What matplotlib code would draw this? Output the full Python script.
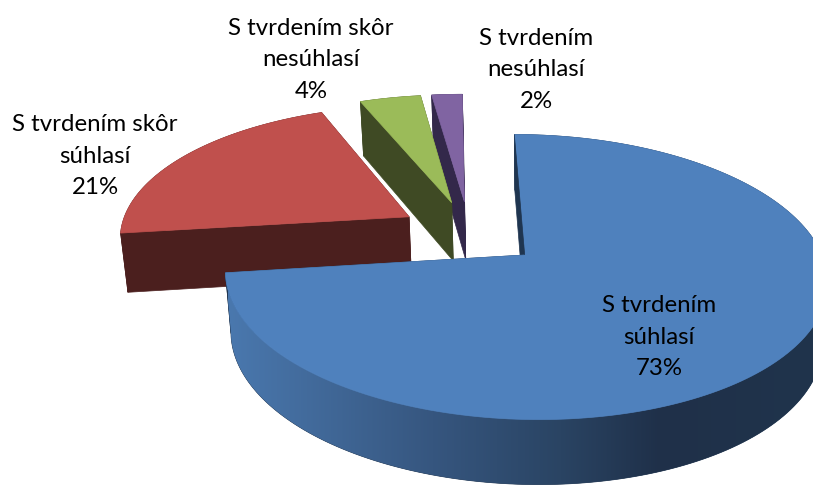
import numpy as np
import matplotlib.pyplot as plt
from matplotlib.patches import Polygon
from matplotlib.colors import LinearSegmentedColormap

plt.rcParams['font.family'] = ['Lato', 'DejaVu Sans']

# pie data, clockwise from the top
labels = ['S tvrdením\nsúhlasí', 'S tvrdením skôr\nsúhlasí', 'S tvrdením skôr\nnesúhlasí', 'S tvrdením\nnesúhlasí']
values = [73, 21, 4, 2]
colors = ['#4f81bd', '#c0504d', '#9bbb59', '#8064a2']
wall_colors = ['#1f3550', '#4b1f1e', '#3f4a24', '#33284a']
label_pos = [(659, 337), (95, 156), (311, 60), (536, 70)]

explode = 0.245

# fake 3d camera, fitted by eye
cx, cy = 469.5, 233
sx, sy = 290, 132.4
persp = 0.151
shear = 0.025


def project(u, v, z=0.0):
    w = 1 + persp * v
    s = sy * v / w
    x = cx + sx * u / w - shear * s
    y = cy - s + z * 59.2 / (1 + 0.0768 * v)
    x = 540 + (x - 540) * (1 - 0.0175 * z)
    return np.column_stack([x, y])


fig = plt.figure(figsize=(8.13, 4.86), dpi=100)
ax = fig.add_axes([0, 0, 1, 1])
ax.set_xlim(0, 813)
ax.set_ylim(486, 0)
ax.axis('off')

edges = np.cumsum([0] + values) / sum(values) * 2 * np.pi

# side shading of the blue slice, darkest at about x=660
side_cmap = LinearSegmentedColormap.from_list('side', [
    (0.0, '#4a78ae'), (0.35, '#36567f'), (0.57, '#2a4463'), (0.74, '#1f3049'), (1.0, '#20344c')])

# back slices first, the big blue one goes on top
for i in [3, 2, 1, 0]:
    t0, t1 = edges[i], edges[i + 1]
    mid = (t0 + t1) / 2
    du, dv = explode * np.sin(mid), explode * np.cos(mid)
    t = np.linspace(t0, t1, 200)
    u = du + np.sin(t)
    v = dv + np.cos(t)
    top_rim = project(u, v)
    low_rim = project(u, v, 1)
    ap_top = project(np.array([du]), np.array([dv]))
    ap_low = project(np.array([du]), np.array([dv]), 1)
    lw = 0.5

    # cut faces
    for k in [0, -1]:
        pts = np.vstack([ap_top, top_rim[k], low_rim[k], ap_low])
        ax.add_patch(Polygon(pts, fc=wall_colors[i], ec=wall_colors[i], lw=lw))

    # outer wall
    wall = Polygon(np.vstack([top_rim, low_rim[::-1]]), fc=wall_colors[i], ec=wall_colors[i], lw=lw)
    ax.add_patch(wall)
    if i == 0:
        grad = np.linspace(0, 1, 256).reshape(1, -1)
        im = ax.imshow(grad, cmap=side_cmap, extent=(228, 813, 486, 250), aspect='auto', zorder=wall.get_zorder())
        im.set_clip_path(wall)

    # top face
    ax.add_patch(Polygon(np.vstack([ap_top, top_rim]), fc=colors[i], ec=colors[i], lw=lw, zorder=2))

    # dark sliver along the first cut of the blue slice
    if i == 0:
        edge = np.vstack([ap_top, top_rim[0]])
        bulge = (edge[0] * 0.75 + edge[1] * 0.25) + np.array([-3, 0])
        ax.add_patch(Polygon(np.vstack([edge, bulge]), fc=wall_colors[0], ec=wall_colors[0], lw=lw, zorder=2))

ax.set_xlim(0, 813)
ax.set_ylim(486, 0)

for lab, val, (lx, ly) in zip(labels, values, label_pos):
    ax.text(lx, ly, f'{lab}\n{val}%', ha='center', va='center', fontsize=17.3,
            color='black', linespacing=1.6, zorder=5)

fig.savefig('out.png', dpi=100)
